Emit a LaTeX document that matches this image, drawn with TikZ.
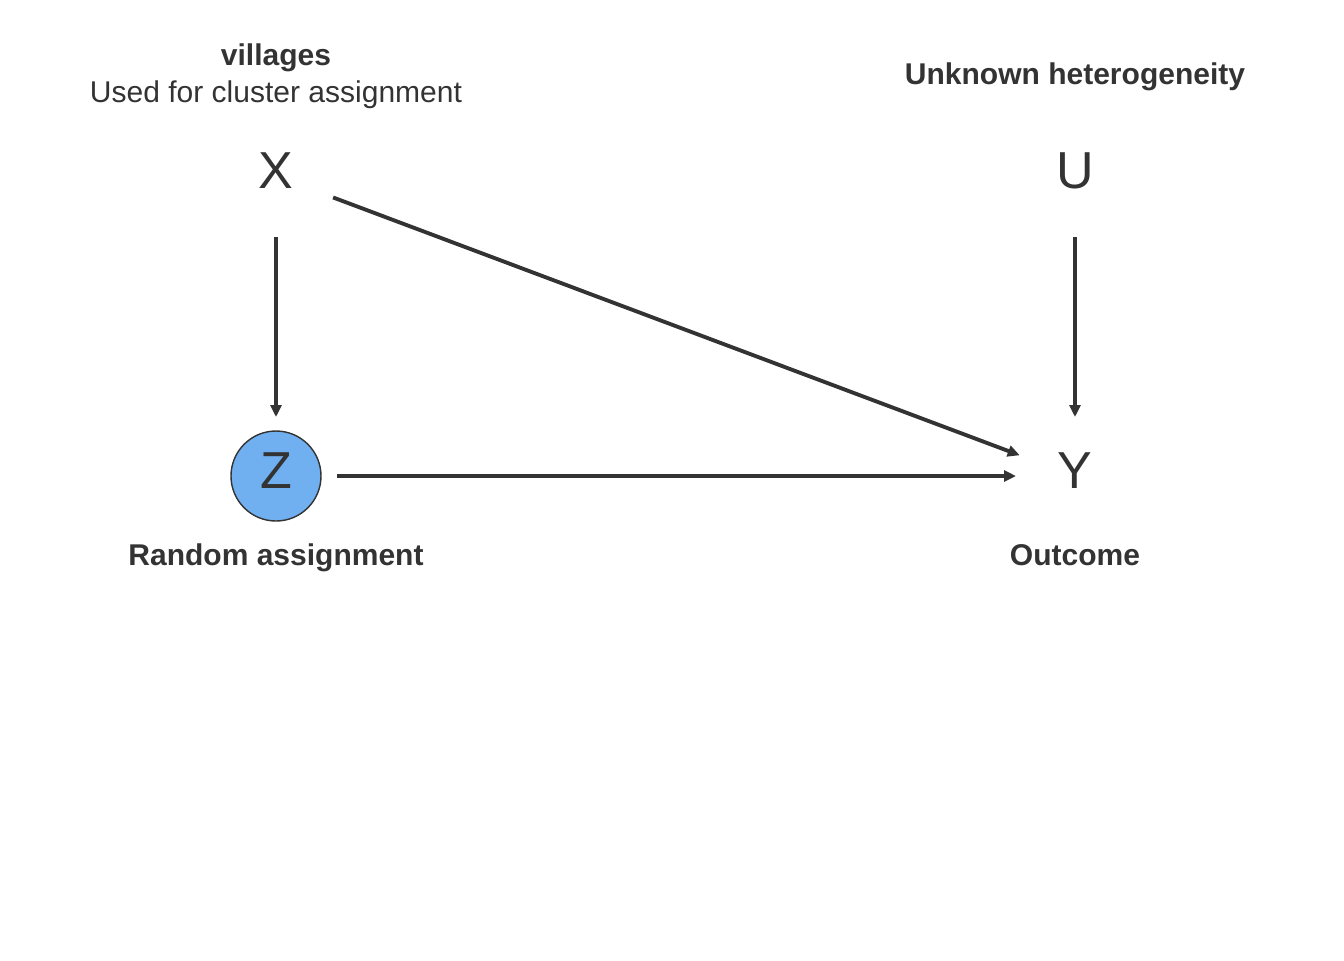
\documentclass[tikz,border=0pt]{standalone}
\usepackage{fontspec}
\setmainfont{Liberation Sans}
\usetikzlibrary{arrows.meta}
\definecolor{ink}{RGB}{51,51,51}
\definecolor{zblue}{RGB}{112,176,240}

\begin{document}
\begin{tikzpicture}[
	var/.style={text=ink, inner sep=0pt, text height=0.372cm, text depth=0.12cm, font=\fontsize{14.8}{17}\selectfont},
	lbl/.style={text=ink, align=center, font=\fontsize{8.54}{10.5}\selectfont\bfseries},
	arr/.style={draw=ink, line width=1.1pt, -{Triangle[length=1.2mm,width=1.1mm]}, shorten <=0.61cm, shorten >=0.59cm}
	]
			%%%%% START %%%%%
			
			\useasboundingbox (0, 0) rectangle (13.44, -9.6);
			
			\node[var] (X) at (2.76, -1.76) {X};
			\node[var] (U) at (10.75, -1.76) {U};
			\node[var, draw=ink, fill=zblue, circle, line width=0.4pt, minimum size=0.9cm] (Z) at (2.76, -4.76) {Z};
			\node[var] (Y) at (10.75, -4.76) {Y};
			
			\node[lbl] (labelX) at (2.76, -0.76) {villages\\\mdseries Used for cluster assignment};
			\node[lbl] (labelU) at (10.75, -0.77) {Unknown heterogeneity};
			\node[lbl] (labelZ) at (2.76, -5.58) {Random assignment};
			\node[lbl] (labelY) at (10.75, -5.55) {Outcome};
			
			\draw[arr] (X.center) -- (Z.center);
			\draw[arr] (U.center) -- (Y.center);
			\draw[arr] (X.center) -- (Y.center);
			\draw[arr] (Z.center) -- (Y.center);
			
			%%%%% END %%%%%
\end{tikzpicture}
\end{document}
